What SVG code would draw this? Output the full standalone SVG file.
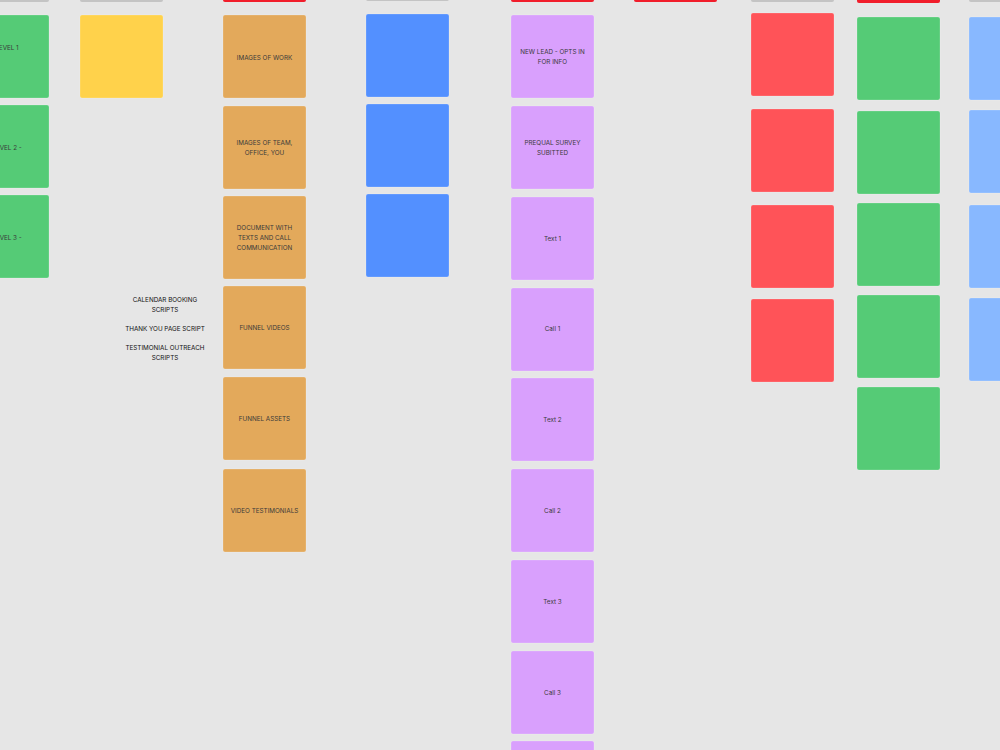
<svg xmlns="http://www.w3.org/2000/svg" width="1000" height="750" viewBox="0 0 1000 750">
<style>
.n{stroke:rgba(255,255,255,0.25);stroke-width:0.8}
.g{fill:#55cb76}.y{fill:#ffd24b}.o{fill:#e3a95b}.b{fill:#5390ff}.p{fill:#d9a0fd}.r{fill:#ff5358}.lb{fill:#88b8ff}.gr{fill:#c4c4c4}.rb{fill:#f11d2b}
text{font-family:Inter,"Noto Sans","Liberation Sans",sans-serif;font-size:6.3px;fill:#3a3a3a;text-anchor:middle}
.t{fill:#111}
</style>
<rect width="1000" height="750" fill="#e6e6e6"/>
<g id="top-bars">
<rect class="gr" x="-34" y="-10" width="83" height="12" rx="2"/>
<rect class="gr" x="80" y="-10" width="83" height="12" rx="2"/>
<rect class="rb" x="223" y="-10" width="83" height="12" rx="2"/>
<rect class="gr" x="366" y="-10" width="83" height="11" rx="2"/>
<rect class="rb" x="511" y="-10" width="83" height="12" rx="2"/>
<rect class="rb" x="634" y="-10" width="83" height="12" rx="2"/>
<rect class="gr" x="751" y="-10" width="83" height="12" rx="2"/>
<rect class="rb" x="857" y="-10" width="83" height="13" rx="2"/>
<rect class="gr" x="969" y="-10" width="83" height="12" rx="2"/>
</g>
<g id="level1"><rect class="n g" x="-34" y="15" width="83" height="83" rx="2"/><text x="7" y="49.5">LEVEL 1</text></g>
<g id="level2"><rect class="n g" x="-34" y="105" width="83" height="83" rx="2"/><text x="7" y="149.5">LEVEL 2 -</text></g>
<g id="level3"><rect class="n g" x="-34" y="195" width="83" height="83" rx="2"/><text x="7" y="239.5">LEVEL 3 -</text></g>
<g id="yellow1"><rect class="n y" x="80" y="15" width="83" height="83" rx="2"/></g>
<g id="scripts-text">
<text class="t" x="165" y="301.5">CALENDAR BOOKING</text>
<text class="t" x="165" y="311.5">SCRIPTS</text>
<text class="t" x="165" y="330.5">THANK YOU PAGE SCRIPT</text>
<text class="t" x="165" y="349.5">TESTIMONIAL OUTREACH</text>
<text class="t" x="165" y="359.5">SCRIPTS</text>
</g>
<g id="o1"><rect class="n o" x="223" y="15" width="83" height="83" rx="2"/><text x="264.5" y="59.5">IMAGES OF WORK</text></g>
<g id="o2"><rect class="n o" x="223" y="106" width="83" height="83" rx="2"/><text x="264.5" y="145">IMAGES OF TEAM,</text><text x="264.5" y="155">OFFICE, YOU</text></g>
<g id="o3"><rect class="n o" x="223" y="196" width="83" height="83" rx="2"/><text x="264.5" y="230">DOCUMENT WITH</text><text x="264.5" y="240">TEXTS AND CALL</text><text x="264.5" y="249.5">COMMUNICATION</text></g>
<g id="o4"><rect class="n o" x="223" y="286" width="83" height="83" rx="2"/><text x="264.5" y="330">FUNNEL VIDEOS</text></g>
<g id="o5"><rect class="n o" x="223" y="377" width="83" height="83" rx="2"/><text x="264.5" y="420.5">FUNNEL ASSETS</text></g>
<g id="o6"><rect class="n o" x="223" y="469" width="83" height="83" rx="2"/><text x="264.5" y="512.5">VIDEO TESTIMONIALS</text></g>
<g id="b1"><rect class="n b" x="366" y="14" width="83" height="83" rx="2"/></g>
<g id="b2"><rect class="n b" x="366" y="104" width="83" height="83" rx="2"/></g>
<g id="b3"><rect class="n b" x="366" y="194" width="83" height="83" rx="2"/></g>
<g id="p1"><rect class="n p" x="511" y="15" width="83" height="83" rx="2"/><text x="552.5" y="54">NEW LEAD - OPTS IN</text><text x="552.5" y="64">FOR INFO</text></g>
<g id="p2"><rect class="n p" x="511" y="106" width="83" height="83" rx="2"/><text x="552.5" y="145">PREQUAL SURVEY</text><text x="552.5" y="155">SUBITTED</text></g>
<g id="p3"><rect class="n p" x="511" y="197" width="83" height="83" rx="2"/><text x="552.5" y="240.5">Text 1</text></g>
<g id="p4"><rect class="n p" x="511" y="288" width="83" height="83" rx="2"/><text x="552.5" y="331">Call 1</text></g>
<g id="p5"><rect class="n p" x="511" y="378" width="83" height="83" rx="2"/><text x="552.5" y="422">Text 2</text></g>
<g id="p6"><rect class="n p" x="511" y="469" width="83" height="83" rx="2"/><text x="552.5" y="513">Call 2</text></g>
<g id="p7"><rect class="n p" x="511" y="560" width="83" height="83" rx="2"/><text x="552.5" y="604">Text 3</text></g>
<g id="p8"><rect class="n p" x="511" y="651" width="83" height="83" rx="2"/><text x="552.5" y="694.5">Call 3</text></g>
<g id="p9"><rect class="n p" x="511" y="741" width="83" height="83" rx="2"/></g>
<g id="r1"><rect class="n r" x="751" y="13" width="83" height="83" rx="2"/></g>
<g id="r2"><rect class="n r" x="751" y="109" width="83" height="83" rx="2"/></g>
<g id="r3"><rect class="n r" x="751" y="205" width="83" height="83" rx="2"/></g>
<g id="r4"><rect class="n r" x="751" y="299" width="83" height="83" rx="2"/></g>
<g id="g1"><rect class="n g" x="857" y="17" width="83" height="83" rx="2"/></g>
<g id="g2"><rect class="n g" x="857" y="111" width="83" height="83" rx="2"/></g>
<g id="g3"><rect class="n g" x="857" y="203" width="83" height="83" rx="2"/></g>
<g id="g4"><rect class="n g" x="857" y="295" width="83" height="83" rx="2"/></g>
<g id="g5"><rect class="n g" x="857" y="387" width="83" height="83" rx="2"/></g>
<g id="lb1"><rect class="n lb" x="969" y="17" width="83" height="83" rx="2"/></g>
<g id="lb2"><rect class="n lb" x="969" y="110" width="83" height="83" rx="2"/></g>
<g id="lb3"><rect class="n lb" x="969" y="205" width="83" height="83" rx="2"/></g>
<g id="lb4"><rect class="n lb" x="969" y="298" width="83" height="83" rx="2"/></g>
<g id="connectors"></g>
</svg>
